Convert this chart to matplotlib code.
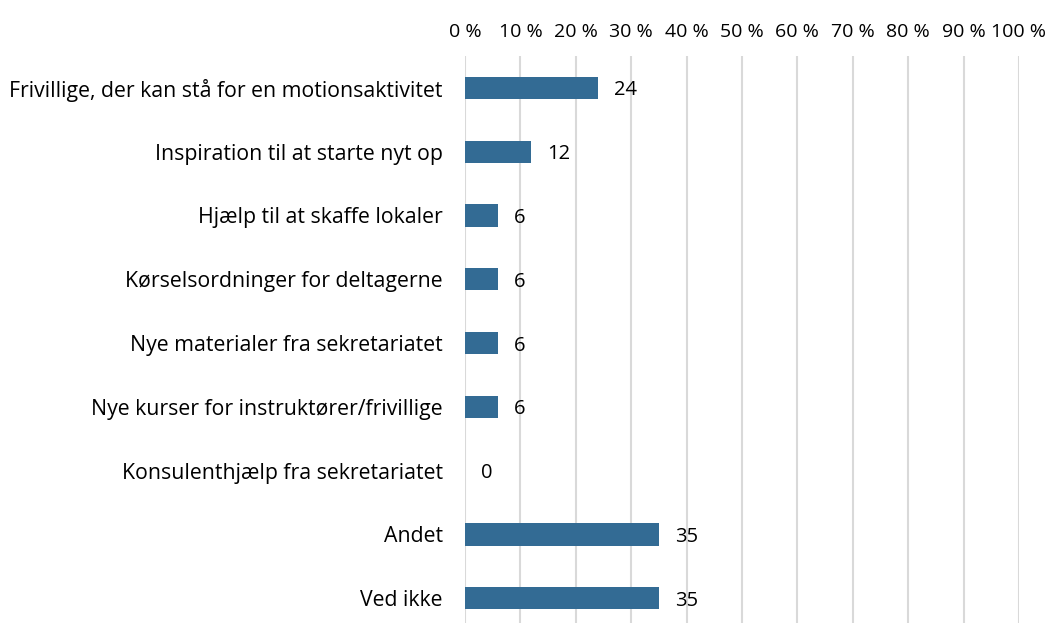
import matplotlib
matplotlib.use("Agg")
import matplotlib.pyplot as plt
from matplotlib.ticker import FuncFormatter

categories = [
    "Frivillige, der kan stå for en motionsaktivitet",
    "Inspiration til at starte nyt op",
    "Hjælp til at skaffe lokaler",
    "Kørselsordninger for deltagerne",
    "Nye materialer fra sekretariatet",
    "Nye kurser for instruktører/frivillige",
    "Konsulenthjælp fra sekretariatet",
    "Andet",
    "Ved ikke",
]
values = [24, 12, 6, 6, 6, 6, 0, 35, 35]
ticks = list(range(0, 101, 10))

plt.rcParams["font.family"] = ["Open Sans", "DejaVu Sans"]

W, H = 1049, 623
fig = plt.figure(figsize=(W / 100, H / 100), dpi=100)
ax = fig.add_axes([465 / W, 0, (1019 - 465) / W, 1 - 56 / H])

y = list(range(len(categories)))
ax.barh(y, values, height=0.35, color="#336B94", zorder=3)
for yi, v in zip(y, values):
    ax.text(v + 2.9, yi + 0.04, str(v), va="center", ha="left", fontsize=14.5, color="black")

ax.set_xlim(0, 100)
ax.set_ylim(8.39, -0.5)
ax.set_xticks(ticks)
ax.xaxis.set_major_formatter(FuncFormatter(lambda v, p: f"{int(v)} %"))
ax.xaxis.tick_top()
ax.set_yticks(y)
ax.set_yticklabels(categories)
ax.tick_params(axis="x", length=0, pad=11, labelsize=14)
ax.tick_params(axis="y", length=0, pad=16, labelsize=15.3)
ax.grid(axis="x", color="#D9D9D9", linewidth=1.5, zorder=0)
for s in ax.spines.values():
    s.set_visible(False)

fig.savefig("out.png", dpi=100)
